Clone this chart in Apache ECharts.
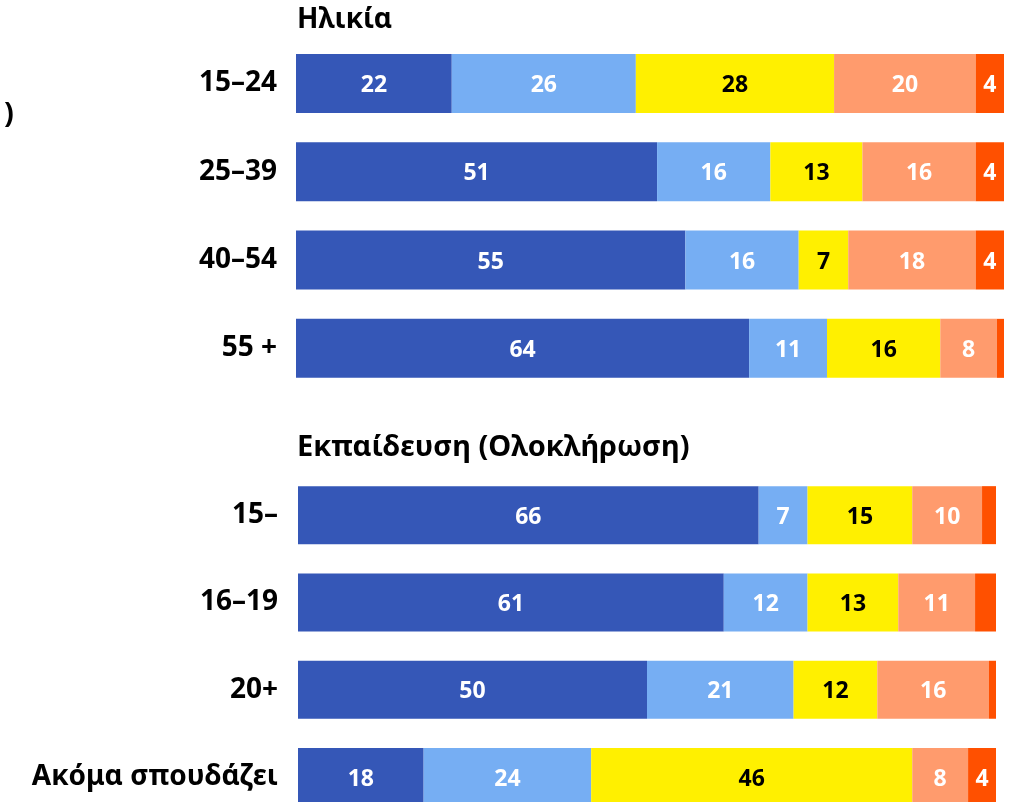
<!DOCTYPE html>
<html>
<head>
<meta charset="utf-8">
<script src="https://cdn.jsdelivr.net/npm/echarts@6/dist/echarts.min.js"></script>
<style>
  html, body { margin: 0; padding: 0; background: #fff; overflow: hidden; }
  #chart { width: 1011px; height: 830px; }
</style>
</head>
<body>
<div id="chart"></div>
<script>
// Age groups (top panel)
const ageCategories = ['15–24', '25–39', '40–54', '55 +'];
const ageS1 = [22, 51, 55, 64];
const ageS2 = [26, 16, 16, 11];
const ageS3 = [28, 13, 7, 16];
const ageS4 = [20, 16, 18, 8];
const ageS5 = [4, 4, 4, 1];

// Education completed (bottom panel)
const eduCategories = ['15–', '16–19', '20+', 'Ακόμα σπουδάζει'];
const eduS1 = [66, 61, 50, 18];
const eduS2 = [7, 12, 21, 24];
const eduS3 = [15, 13, 12, 46];
const eduS4 = [10, 11, 16, 8];
const eduS5 = [2, 3, 1, 4];

const panelTitles = ['Ηλικία', 'Εκπαίδευση (Ολοκλήρωση)'];

const colors = ['#3557b7', '#76aef3', '#fff000', '#ff9b6d', '#ff5000'];
const labelColors = ['#ffffff', '#ffffff', '#000000', '#ffffff', '#ffffff'];
const FONT = '"Noto Sans", "DejaVu Sans", sans-serif';

function makeSeries(arrays, gridIndex) {
  return arrays.map((data, i) => ({
    type: 'bar',
    name: 'g' + gridIndex + '_' + i,
    stack: 'total' + gridIndex,
    xAxisIndex: gridIndex,
    yAxisIndex: gridIndex,
    data: data,
    barWidth: gridIndex === 0 ? 59 : 58,
    itemStyle: { color: colors[i] },
    emphasis: { disabled: true },
    label: {
      show: true,
      position: 'inside',
      offset: [0, 2],
      color: labelColors[i],
      fontFamily: FONT,
      fontWeight: 'bold',
      fontSize: 23,
      formatter: p => (p.value >= 4 ? String(p.value) : '')
    }
  }));
}

const catAxisBase = {
  type: 'category',
  inverse: true,
  axisLine: { show: false },
  axisTick: { show: false },
  splitLine: { show: false },
  axisLabel: {
    color: '#000',
    fontFamily: FONT,
    fontWeight: 'bold',
    fontSize: 28,
    padding: [8, 0, 0, 0]
  }
};

const valAxisBase = {
  type: 'value',
  min: 0,
  max: 100,
  show: false
};

const chart = echarts.init(document.getElementById('chart'), null, { renderer: 'canvas' });
chart.setOption({
  animation: false,
  backgroundColor: '#ffffff',
  grid: [
    { left: 296, width: 708, top: 39.3, height: 353.2 },
    { left: 298, width: 698, top: 471.5, height: 349.2 }
  ],
  xAxis: [
    Object.assign({ gridIndex: 0 }, valAxisBase),
    Object.assign({ gridIndex: 1 }, valAxisBase)
  ],
  yAxis: [
    Object.assign({}, catAxisBase, { gridIndex: 0, data: ageCategories,
      axisLabel: Object.assign({}, catAxisBase.axisLabel, { margin: 19 }) }),
    Object.assign({}, catAxisBase, { gridIndex: 1, data: eduCategories,
      axisLabel: Object.assign({}, catAxisBase.axisLabel, { margin: 20 }) })
  ],
  series: makeSeries([ageS1, ageS2, ageS3, ageS4, ageS5], 0)
    .concat(makeSeries([eduS1, eduS2, eduS3, eduS4, eduS5], 1)),
  graphic: [
    {
      type: 'text', left: 297, top: 6,
      style: { text: panelTitles[0], fill: '#000', font: 'bold 28px ' + FONT }
    },
    {
      type: 'text', left: 297, top: 433,
      style: { text: panelTitles[1], fill: '#000', font: 'bold 29px ' + FONT }
    },
    {
      type: 'text', left: 4, top: 100,
      style: { text: ')', fill: '#000', font: 'bold 29px ' + FONT }
    }
  ]
});
</script>
</body>
</html>
